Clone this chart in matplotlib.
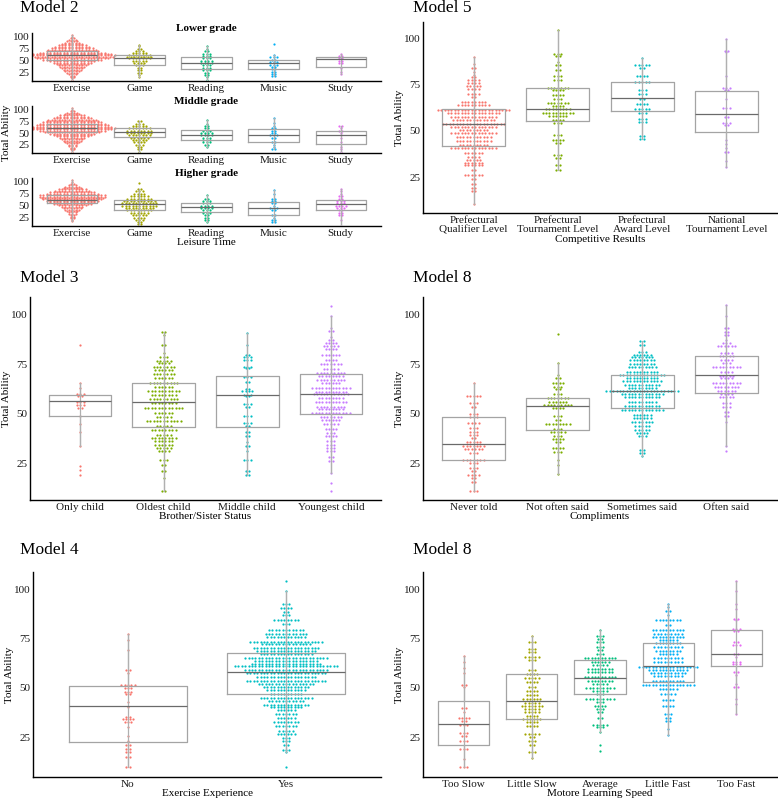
import numpy as np
import matplotlib.pyplot as plt

plt.rcParams['font.family'] = ['Liberation Serif', 'DejaVu Serif']

pal2 = ['#F8766D', '#00BFC4']
pal4 = ['#F8766D', '#7CAE00', '#00BFC4', '#C77CFF']
pal5 = ['#F8766D', '#A3A500', '#00BF7D', '#00B0F6', '#E76BF3']

# ---- Model 2: leisure time by grade (dot rows: value level, number of dots)
m2_cats = ['Exercise', 'Game', 'Reading', 'Music', 'Study']

m2_low_vals = [
    [10, 13, 16, 19, 22, 25, 28, 31, 34, 37, 40, 43, 46, 49, 52, 55, 58, 61, 64, 67, 70, 73, 76, 79, 82, 85, 88, 91, 94, 97, 100, 103],
    [15, 20, 25, 30, 35, 40, 45, 50, 55, 58, 62, 66, 70, 75, 80, 83],
    [10, 15, 20, 25, 30, 35, 40, 45, 50, 55, 60, 65, 70, 75, 80],
    [17, 22, 27, 32, 37, 42, 47, 52, 57, 62, 85],
    [22, 27, 35, 45, 50, 55, 60, 65],
]
m2_low_cnts = [
    [1, 1, 2, 2, 3, 4, 5, 6, 7, 8, 9, 10, 12, 14, 18, 22, 25, 26, 24, 20, 16, 15, 13, 11, 9, 7, 5, 4, 3, 2, 1, 1],
    [1, 1, 2, 2, 2, 3, 4, 5, 7, 8, 7, 5, 3, 2, 1, 1],
    [1, 1, 2, 2, 3, 3, 3, 4, 4, 3, 3, 3, 2, 1, 1],
    [2, 2, 2, 2, 2, 3, 3, 2, 3, 1, 1],
    [1, 1, 1, 2, 2, 2, 2, 1],
]
# (whisker low, q1, median, q3, whisker high)
m2_low_box = [(10, 51, 62, 70, 103), (15, 42, 55, 62, 83), (10, 33, 46, 57, 80),
              (17, 32, 46, 51, 62), (22, 36, 53, 58, 65)]

m2_mid_vals = [
    [10, 13, 16, 19, 22, 25, 28, 31, 34, 37, 40, 43, 46, 49, 52, 55, 58, 61, 64, 67, 70, 73, 76, 79, 82, 85, 88, 91, 94, 97, 100, 104],
    [10, 15, 20, 25, 30, 35, 40, 45, 50, 55, 60, 65, 70, 75],
    [20, 25, 30, 35, 40, 45, 50, 55, 60, 65, 70, 78],
    [15, 20, 25, 30, 40, 45, 50, 55, 60, 65, 72, 82],
    [10, 15, 20, 30, 40, 45, 50, 55, 60, 66],
]
m2_mid_cnts = [
    [1, 1, 2, 2, 3, 3, 4, 5, 6, 7, 8, 10, 12, 14, 17, 20, 24, 26, 24, 22, 20, 18, 16, 15, 12, 10, 8, 5, 4, 2, 1, 1],
    [1, 2, 2, 3, 4, 5, 6, 7, 8, 8, 7, 5, 3, 2],
    [1, 2, 3, 3, 3, 4, 4, 3, 2, 2, 1, 1],
    [2, 1, 1, 2, 2, 3, 2, 2, 2, 1, 1, 1],
    [1, 1, 1, 1, 1, 1, 1, 2, 1, 2],
]
m2_mid_box = [(10, 52, 62, 69, 104), (10, 41, 52, 60, 75), (20, 36, 46, 56, 78),
              (15, 30, 45, 59, 82), (10, 27, 45, 55, 66)]

m2_high_vals = [
    [18, 21, 24, 27, 30, 33, 36, 39, 42, 45, 48, 51, 54, 57, 60, 63, 66, 69, 72, 75, 78, 81, 84, 87, 90, 93, 96, 100, 103],
    [8, 12, 16, 20, 25, 30, 35, 40, 45, 50, 55, 60, 65, 70, 75, 80, 85, 97],
    [15, 20, 25, 30, 35, 40, 45, 50, 55, 60, 65, 72],
    [15, 20, 25, 30, 40, 45, 50, 55, 60, 65, 75, 82],
    [8, 20, 30, 35, 40, 45, 50, 55, 60, 65, 70, 75, 80, 85],
]
m2_high_cnts = [
    [1, 1, 2, 2, 2, 3, 3, 4, 5, 6, 7, 9, 12, 14, 16, 18, 19, 20, 20, 16, 14, 11, 9, 6, 5, 3, 2, 1, 1],
    [1, 2, 2, 3, 4, 5, 6, 8, 9, 11, 11, 10, 8, 6, 4, 3, 2, 1],
    [1, 2, 2, 2, 3, 3, 4, 4, 3, 3, 2, 1],
    [2, 2, 1, 2, 2, 3, 1, 2, 2, 2, 1, 1],
    [1, 1, 2, 2, 2, 3, 4, 3, 3, 2, 2, 1, 1, 1],
]
m2_high_box = [(18, 56, 62, 73, 103), (8, 41, 53, 62, 85), (15, 37.5, 48, 55, 72),
               (15, 30, 44.5, 58, 82), (8, 42, 53.5, 62, 85)]

# ---- Model 5: competitive results
m5_cats = ['Prefectural\nQualifier Level', 'Prefectural\nTournament Level',
           'Prefectural\nAward Level', 'National\nTournament Level']
m5_vals = [
    [90, 86, 84, 82, 80, 79, 77.3, 75.9, 74.1, 72.4, 70.2, 68.1, 65.7, 64, 61.3, 59.5, 57.7, 55.9, 53.8, 52.3,
     50.6, 48.8, 46.7, 44.8, 42.5, 40.8, 38.1, 35.9, 34.5, 32.7, 31.4, 29.1, 26.4, 23.8, 21.1, 19.3, 17.5, 10.4],
    [104.5, 91.6, 90.2, 87.1, 85.4, 82.7, 79.5, 77.3, 73.2, 72, 69.3, 67.5, 65.2, 63.6, 62.1, 59.5, 58, 55.9,
     54.5, 47.9, 45.2, 43.4, 37.1, 35.4, 31.8, 29.1],
    [89.5, 85.4, 84, 79.5, 76.4, 72.3, 70.2, 67, 64.5, 62.1, 59.5, 56.4, 55, 47, 45.5],
    [99.5, 93.4, 92.5, 79.5, 73.4, 72.3, 67.5, 62.5, 57.7, 54.1, 53.2, 45.2, 43, 40.7, 38.4, 33.6, 30.4],
]
m5_cnts = [
    [1, 1, 2, 1, 1, 2, 4, 4, 5, 4, 4, 2, 8, 10, 22, 16, 14, 13, 19, 14,
     9, 14, 11, 11, 9, 14, 6, 4, 5, 6, 6, 2, 6, 2, 2, 2, 2, 1],
    [1, 3, 2, 1, 2, 2, 3, 3, 7, 4, 4, 3, 7, 4, 8, 10, 6, 4, 3, 3, 4, 2, 3, 2, 2, 2],
    [1, 5, 2, 4, 5, 3, 3, 2, 4, 5, 3, 3, 3, 2, 2],
    [1, 2, 1, 1, 3, 2, 1, 3, 2, 3, 2, 1, 1, 1, 2, 1, 1],
]
m5_box = [(10.4, 41.6, 53.6, 62.1, 90), (29.1, 55.4, 62.1, 73.2, 104.5),
          (45.5, 60.7, 68, 76.2, 89.5), (30.4, 49.3, 59.3, 71.8, 99.5)]

# ---- Model 3: brother/sister status
m3_cats = ['Only child', 'Oldest child', 'Middle child', 'Youngest child']
m3_vals = [
    [84.4, 65.6, 63, 60, 59, 56, 54.4, 53, 48.8, 44.8, 40.6, 33.7, 23.7, 21.6, 18.8],
    [91.2, 89.6, 84.6, 80.4, 78.4, 76.7, 75.3, 73.6, 72, 69.8, 67.8, 65.6, 63.6, 61.6, 59.4, 57.4, 55.2, 52.7,
     50.5, 48.5, 46, 43.8, 41.8, 39.3, 37.6, 35.9, 34.2, 32.6, 30.9, 26.7, 24.2, 20.8, 17.4, 11],
    [90.8, 84.6, 79.5, 78.4, 77.3, 73.7, 72.8, 68.3, 66.1, 62.4, 61.6, 59.4, 58.9, 54.7, 53.2, 48.8, 45.1,
     43.8, 40.6, 38.4, 35.6, 33.4, 30.9, 26.3, 20.8, 18.8],
    [104.4, 99.3, 93.3, 91.8, 88.8, 87.4, 85.4, 84.1, 82.4, 79.5, 77, 74.8, 72.5, 70.3, 69, 66.9, 65.3, 62.8,
     61.1, 59.7, 57.7, 55.7, 53.5, 52.2, 50.2, 48.5, 46.5, 44.8, 42.1, 40.1, 38.4, 35.9, 34.2, 32.6, 30.9,
     28, 25.8, 20, 14.9, 11],
]
m3_cnts = [
    [1, 1, 1, 3, 2, 3, 3, 2, 1, 1, 1, 1, 1, 1, 1],
    [2, 1, 2, 1, 3, 5, 4, 7, 6, 7, 6, 9, 6, 10, 8, 9, 8, 12,
     6, 5, 11, 5, 8, 5, 8, 6, 6, 5, 4, 3, 2, 2, 1, 2],
    [1, 1, 2, 3, 3, 3, 2, 3, 2, 2, 4, 3, 2, 3, 2, 3, 3, 2, 2, 2, 1, 2, 1, 3, 2, 2],
    [1, 1, 1, 2, 1, 2, 4, 5, 4, 6, 4, 7, 5, 9, 8, 9, 6, 12,
     10, 11, 8, 10, 9, 8, 12, 7, 6, 5, 4, 3, 4, 3, 3, 3, 3,
     2, 2, 1, 1, 1],
]
m3_box = [(33.7, 48.8, 56.5, 59.6, 65.6), (11, 43, 56, 65.3, 91.2),
          (18.8, 43.1, 59.2, 69, 90.8), (20, 49.7, 59.7, 69.8, 99.3)]

# ---- Model 8: compliments
m8_cats = ['Never told', 'Not often said', 'Sometimes said', 'Often said']
m8_vals = [
    [65.6, 59, 55.2, 53.2, 49.8, 48.5, 45.1, 42.6, 40.9, 38.9, 37.6, 35.5, 33.8, 32, 30, 26.7, 25, 22.5,
     20.8, 18.8, 17.4, 15.4, 11],
    [90.4, 75.3, 69.5, 67.8, 65.3, 63.6, 62.4, 59.9, 57.7, 56, 54.4, 52.7, 48.8, 46.8, 44.8, 42.1, 40.9,
     38.4, 37.2, 35.4, 32.6, 30.4, 26.7, 24.2, 19.6],
    [86.6, 84.6, 81.2, 79.5, 78.4, 77, 74.8, 73.7, 71.1, 69.5, 67.8, 66.4, 64.4, 63.1, 61.6, 59.9, 58.6,
     56, 53.9, 51.8, 49.3, 47.7, 45.5, 43.5, 41.8, 40.1, 38.4, 31.7, 30, 28.7],
    [104.7, 99.3, 93, 91.3, 89.6, 87.1, 85.4, 84.1, 80.4, 79, 77.3, 75.3, 73.3, 71.1, 69, 67.8, 65.3, 63.6,
     61.6, 59.9, 58.2, 55.5, 53.2, 51, 49, 45.5, 33.4, 30.9],
]
m8_cnts = [
    [1, 5, 3, 2, 3, 3, 4, 3, 3, 3, 2, 5, 7, 6, 3, 7, 3, 3, 2, 4, 2, 2, 3],
    [1, 1, 1, 2, 4, 3, 2, 3, 7, 6, 9, 4, 3, 2, 8, 3, 5, 3, 4, 2, 4, 3, 1, 1, 1],
    [2, 2, 3, 6, 7, 8, 8, 9, 10, 14, 10, 12, 11, 9, 22, 13, 11, 9, 11, 13, 6, 6, 7, 5, 5, 4, 3, 2, 2, 1],
    [1, 1, 2, 2, 2, 1, 3, 6, 4, 5, 4, 3, 9, 4, 5, 4, 9, 8, 6, 4, 5, 3, 3, 2, 2, 1, 1, 1],
]
m8_box = [(11, 26.7, 34.7, 48, 65.6), (19.6, 41.6, 53.7, 57.7, 75.3),
          (28.7, 52.7, 61.6, 69.5, 86.6), (33.4, 60.6, 69.5, 79.2, 104.7)]

# ---- Model 4: exercise experience
m4_cats = ['No', 'Yes']
m4_vals = [
    [77.3, 74.2, 69.1, 58.9, 57.6, 51.3, 50.1, 47.9, 46.7, 42.8, 40.3, 35.2, 34, 32.6, 30.1, 25.8, 23.3,
     20.8, 19.1, 17.4, 14.8, 9.7],
    [104.4, 99.2, 92.5, 90.8, 88.6, 86.9, 84.4, 82.7, 79.6, 77.6, 75.9, 73.4, 72.2, 70.5, 68.8, 67.1, 65.4,
     63.7, 62.3, 61, 59.3, 57.6, 55.5, 53.5, 51.8, 50.4, 48.8, 47.1, 44.8, 43.3, 41.6, 40.3, 38.6, 36.9,
     34.8, 32.6, 30.9, 28.4, 26.4, 24.7, 23, 20.8, 18.7, 17.4, 9.7],
]
m4_cnts = [
    [1, 1, 1, 2, 1, 5, 3, 3, 2, 1, 1, 2, 4, 3, 1, 1, 1, 2, 2, 2, 2, 2],
    [1, 1, 3, 4, 2, 3, 8, 3, 11, 13, 12, 22, 15, 20, 18, 16, 25,
     19, 21, 31, 25, 24, 18, 24, 17, 14, 12, 10, 16, 11, 14, 10, 6, 7,
     6, 8, 7, 5, 6, 3, 3, 2, 3, 1, 1],
]
m4_box = [(9.7, 22.8, 41, 51, 77.3), (17.4, 47, 57.9, 67.9, 99.2)]

# ---- Model 8: motor learning speed
m8b_cats = ['Too Slow', 'Little Slow', 'Average', 'Little Fast', 'Too Fast']
m8b_vals = [
    [66.1, 63.2, 60.3, 57.6, 51.3, 50.4, 39.9, 37.7, 34.8, 33.1, 31.4, 27, 25.8, 23.3, 19.1, 14, 9.7],
    [76.2, 73.4, 70, 68.3, 65.7, 64, 59.3, 57.2, 55.2, 53, 50.4, 48.4, 46.2, 44.5, 42.3, 41.1, 39.4, 37.7,
     36, 34.3, 32.6, 30.9, 26.4, 25, 23, 20.8, 17.4, 14.3],
    [79.3, 76.2, 75.1, 73.4, 70.8, 69.5, 67.1, 65.2, 63.2, 61.5, 59.8, 58.1, 55.5, 53.5, 52.1, 50.1, 48.4,
     46.7, 44.5, 42.8, 41.1, 39.4, 37.7, 34.8, 31.4, 30.1, 27.5, 20.8, 18.2],
    [92.9, 91.1, 89.1, 86.9, 84.4, 81.8, 79.3, 77.6, 75.9, 74.5, 72.8, 70.8, 68.7, 67.1, 65.4, 63.1, 60.9,
     59.3, 57.5, 55.9, 53.8, 51.3, 49.6, 47.1, 44, 41.1, 36.9, 35, 33, 29, 26],
    [104.4, 99.2, 92.5, 90, 85.2, 84.4, 80.1, 78.9, 73.4, 71.7, 67.1, 65.7, 63.2, 62, 58.1, 56.4, 52.1,
     50.4, 44.5, 42, 36.9],
]
m8b_cnts = [
    [1, 1, 1, 1, 2, 1, 2, 1, 4, 2, 3, 3, 2, 3, 3, 1, 3],
    [1, 3, 3, 3, 5, 3, 3, 4, 5, 4, 3, 4, 4, 6, 5, 7, 5, 5, 4, 6, 4, 4, 5, 2, 3, 2, 3, 1],
    [1, 3, 2, 3, 3, 2, 3, 10, 6, 5, 8, 8, 10, 8, 5, 9, 5, 3, 9, 3, 4, 3, 2, 2, 5, 3, 1, 1, 1],
    [1, 1, 2, 1, 8, 2, 10, 9, 10, 6, 8, 9, 8, 6, 9, 9, 18, 12, 11, 9, 10, 16, 6, 5, 4, 4, 3, 2, 2, 1, 1],
    [1, 1, 1, 1, 2, 1, 3, 2, 2, 3, 2, 1, 3, 3, 2, 1, 1, 2, 1, 1, 1],
]
m8b_box = [(9.7, 20.8, 31.8, 43.3, 66.1), (14.3, 34, 43.3, 57.2, 76.2), (27.5, 47, 55.2, 64, 79.3),
           (26, 53, 61, 72.8, 92.9), (36.9, 61, 67.1, 79.3, 104.4)]

W, H = 778, 799
fig = plt.figure(figsize=(W / 100, H / 100), dpi=100)


def add_axes(l, t, r, b):
    return fig.add_axes([l / W, 1 - b / H, (r - l) / W, (b - t) / H])


def style(ax, cats, ylim):
    ax.spines['top'].set_visible(False)
    ax.spines['right'].set_visible(False)
    ax.spines['left'].set_linewidth(1.0)
    ax.spines['bottom'].set_linewidth(1.0)
    ax.set_xlim(0.4, len(cats) + 0.6)
    ax.set_ylim(*ylim)
    ax.set_xticks(np.arange(1, len(cats) + 1))
    ax.set_xticklabels(cats)
    ax.set_yticks([25, 50, 75, 100])
    ax.tick_params(length=0, labelsize=8, labelcolor='#1a1a1a', pad=2)


def draw_panel(ax, vals, cnts, boxes, colors, step_px=3.4):
    x0, x1 = ax.get_xlim()
    ppu = ax.get_position().width * W / (x1 - x0)
    step = step_px / ppu
    for i in range(len(vals)):
        pos = i + 1
        xs, ys = [], []
        for v, n in zip(vals[i], cnts[i]):
            off = (np.arange(n) - (n - 1) / 2) * step
            xs.extend(pos + off)
            ys.extend([v] * n)
        ax.plot(xs, ys, 'o', ms=1.6, mew=0, color=colors[i], zorder=2)
        lo, q1, med, q3, hi = boxes[i]
        ax.vlines(pos, lo, hi, color='#b0b0b0', lw=0.9, zorder=3)
        ax.bxp([dict(whislo=lo, q1=q1, med=med, q3=q3, whishi=hi, fliers=[])],
               positions=[pos], widths=0.75, showcaps=False, showfliers=False,
               manage_ticks=False, zorder=4,
               boxprops=dict(color='#a4a4a4', lw=0.9),
               medianprops=dict(color='#6a6a6a', lw=0.9),
               whiskerprops=dict(color='#b0b0b0', lw=0.9))


# Model 2 (three stacked sub-panels)
fig.text(20 / W, 1 - 8 / H, 'Model 2', fontsize=12.5, ha='left', va='center')
m2_parts = [('Lower grade', 33, 81, m2_low_vals, m2_low_cnts, m2_low_box),
            ('Middle grade', 106, 153, m2_mid_vals, m2_mid_cnts, m2_mid_box),
            ('Higher grade', 178, 226, m2_high_vals, m2_high_cnts, m2_high_box)]
for k, (name, t, b, vals, cnts, boxes) in enumerate(m2_parts):
    ax = add_axes(32, t, 381, b)
    style(ax, m2_cats, (7.5, 108))
    draw_panel(ax, vals, cnts, boxes, pal5)
    ax.set_title(name, fontsize=8, fontweight='bold', pad=1.5)
    if k == 2:
        ax.set_xlabel('Leisure Time', fontsize=8, labelpad=0.5)
fig.text(7 / W, 1 - 133 / H, 'Total Ability', rotation=90, fontsize=8, ha='center', va='center')

panels = [
    ('Model 5', 413, 8, (423, 22, 777, 213), m5_cats, m5_vals, m5_cnts, m5_box, pal4,
     'Competitive Results', (5.7, 108.8)),
    ('Model 3', 20, 278, (30, 297, 381, 500), m3_cats, m3_vals, m3_cnts, m3_box, pal4,
     'Brother/Sister Status', (6.3, 108.9)),
    ('Model 8', 413, 278, (423, 297, 777, 500), m8_cats, m8_vals, m8_cnts, m8_box, pal4,
     'Compliments', (6.3, 108.9)),
    ('Model 4', 20, 550, (33, 572, 381, 777), m4_cats, m4_vals, m4_cnts, m4_box, pal2,
     'Exercise Experience', (4.8, 108.9)),
    ('Model 8', 413, 550, (423, 572, 777, 777), m8b_cats, m8b_vals, m8b_cnts, m8b_box, pal5,
     'Motore Learning Speed', (4.8, 108.9)),
]
for title, tx, ty, rect, cats, vals, cnts, boxes, colors, xlab, ylim in panels:
    fig.text(tx / W, 1 - ty / H, title, fontsize=12.5, ha='left', va='center')
    ax = add_axes(*rect)
    style(ax, cats, ylim)
    for lab in ax.get_xticklabels():
        lab.set_linespacing(1.1)
    draw_panel(ax, vals, cnts, boxes, colors)
    ax.set_xlabel(xlab, fontsize=8, labelpad=0.5)
    ax.set_ylabel('Total Ability', fontsize=8)
    # place the label's right edge about 19 px left of the axis line
    ax.yaxis.set_label_coords(-19 / (rect[2] - rect[0]), 0.5)

fig.savefig('out.png', dpi=100)
